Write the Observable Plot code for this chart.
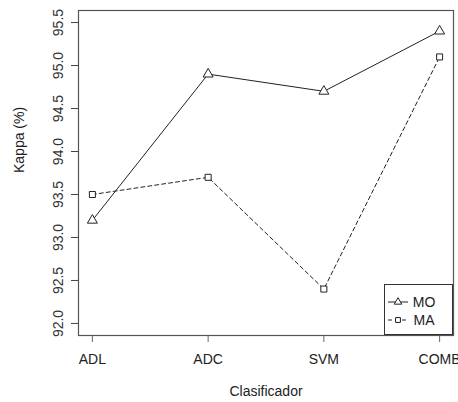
<!DOCTYPE html>
<html><head><meta charset="utf-8">
<script src="https://cdn.jsdelivr.net/npm/d3@7"></script>
<script src="https://cdn.jsdelivr.net/npm/@observablehq/plot@0.6"></script>
<style>body{margin:0;background:#fff}#c{position:relative;width:458px;height:402px;overflow:hidden}</style>
</head><body><div id="c"></div>
<script>
const categories = ["ADL", "ADC", "SVM", "COMB"];
const seriesNames = ["MO", "MA"];
const moValues = [93.2, 94.9, 94.7, 95.4];
const maValues = [93.5, 93.7, 92.4, 95.1];
const yTicks = [92.0, 92.5, 93.0, 93.5, 94.0, 94.5, 95.0, 95.5];

const data = [];
categories.forEach((c, i) => {
  data.push({series: "MO", x: i + 1, cat: c, v: moValues[i]});
  data.push({series: "MA", x: i + 1, cat: c, v: maValues[i]});
});
const mo = data.filter(d => d.series === "MO");
const ma = data.filter(d => d.series === "MA");
const font = "Liberation Sans, Arial, sans-serif";

const chart = Plot.plot({
  width: 458, height: 402,
  marginLeft: 78, marginRight: 5, marginTop: 10, marginBottom: 67,
  style: {fontFamily: font, fontSize: "14px", color: "#333", background: "#fff", overflow: "visible"},
  x: {domain: [0.88, 4.12], axis: null},
  y: {domain: [91.86, 95.64], axis: null},
  marks: [
    Plot.axisX({ticks: [1,2,3,4], tickFormat: d => categories[d-1], tickSize: 7, tickPadding: 12, stroke: "#666", fill: "#222", fontSize: 14, label: null, textOverflow: null}),
    Plot.axisY({ticks: yTicks, tickFormat: d3.format(".1f"), tickSize: 7, tickPadding: 9, tickRotate: -90, stroke: "#444", fill: "#333", fontSize: 14, label: null}),
    Plot.frame({stroke: "#555", strokeWidth: 1.2}),
    Plot.line(mo, {x: "x", y: "v", stroke: "#222", strokeWidth: 1}),
    Plot.line(ma, {x: "x", y: "v", stroke: "#222", strokeWidth: 1, strokeDasharray: "4,3"}),
    Plot.dot(mo, {x: "x", y: "v", symbol: "triangle", r: 3.7, fill: "white", stroke: "#222", strokeWidth: 1}),
    Plot.dot(ma, {x: "x", y: "v", symbol: "square", r: 3.4, fill: "white", stroke: "#222", strokeWidth: 1}),
    Plot.text(["Kappa (%)"], {frameAnchor: "left", dx: -59, rotate: -90, fill: "#222", fontSize: 14}),
    Plot.text(["Clasificador"], {frameAnchor: "bottom", dy: 60, fill: "#222", fontSize: 14})
  ]
});
document.getElementById("c").appendChild(chart);

// legend inside the plot, bottom-right
const svg = d3.select(chart);
const g = svg.append("g").attr("font-family", font).attr("font-size", 14);
g.append("rect").attr("x", 384.5).attr("y", 284.5).attr("width", 68).attr("height", 50)
  .attr("fill", "white").attr("stroke", "#333");
const rows = [{name: seriesNames[0], y: 302, dash: null, sym: "triangle"},
              {name: seriesNames[1], y: 320, dash: "4,3", sym: "square"}];
rows.forEach(r => {
  g.append("line").attr("x1", 388).attr("x2", 408).attr("y1", r.y).attr("y2", r.y)
    .attr("stroke", "#222").attr("stroke-dasharray", r.dash);
  const sym = d3.symbol(r.sym === "triangle" ? d3.symbolTriangle2 : d3.symbolSquare2, r.sym === "triangle" ? 40 : 30)();
  g.append("path").attr("d", sym).attr("transform", `translate(398,${r.y})`)
    .attr("fill", "white").attr("stroke", "#222");
  g.append("text").attr("x", 424).attr("y", r.y).attr("dy", "0.35em").attr("fill", "#222").text(r.name);
});
</script></body></html>
